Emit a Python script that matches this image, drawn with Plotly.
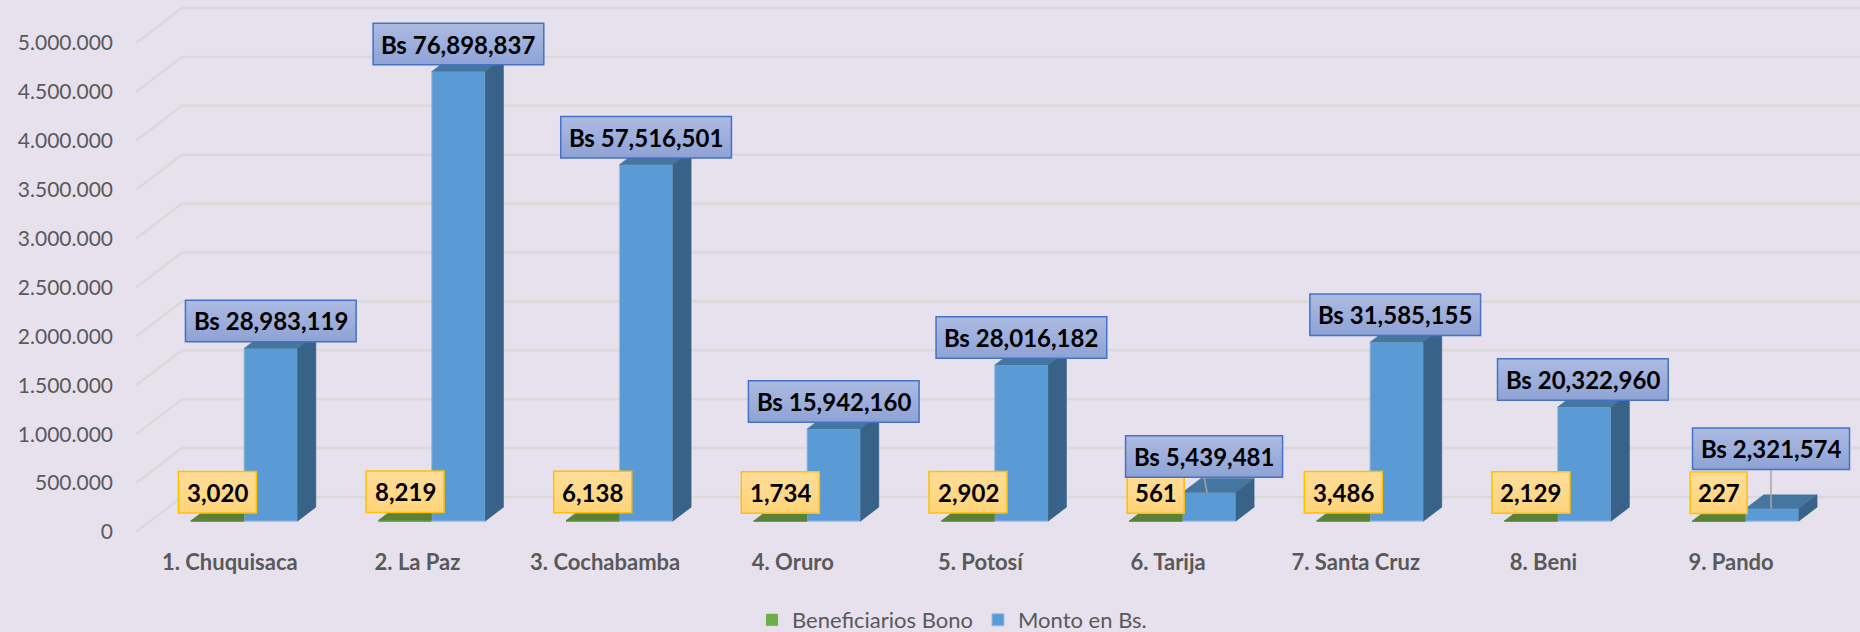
import plotly.graph_objects as go

categories = ["1. Chuquisaca", "2. La Paz", "3. Cochabamba", "4. Oruro", "5. Potosí",
              "6. Tarija", "7. Santa Cruz", "8. Beni", "9. Pando"]
beneficiarios = [3020, 8219, 6138, 1734, 2902, 561, 3486, 2129, 227]
monto_bar = [1766000, 4597000, 3645000, 942000, 1596000, 292000, 1830000, 1166000, 126000]
monto_labels = [28983119, 76898837, 57516501, 15942160, 28016182, 5439481, 31585155, 20322960, 2321574]
y_ticks = [0, 500000, 1000000, 1500000, 2000000, 2500000, 3000000, 3500000, 4000000, 4500000, 5000000]

# layout constants
W, H = 1860, 632
LEFT, BOTTOM_PX = 135.6, 532
CAT_PX = 187.7
VAL_PX = 48.9 / 500000
DX = 46 / CAT_PX        # depth of the floor in category units
DY = 35 / VAL_PX        # depth of the floor in value units
D0, D1 = 0.31, 0.71     # depth of the bars' front and back planes
BW = 53.4 / CAT_PX
XMAX = -0.5 + (W - LEFT) / CAT_PX
YMAX = BOTTOM_PX / VAL_PX

BG = "#e6e1ed"
TXT = "#595959"
FONT = "Lato, sans-serif"


def pt(x, v, d):
    return x + d * DX, v + d * DY


def poly(points, color, name=""):
    xs = [p[0] for p in points] + [points[0][0]]
    ys = [p[1] for p in points] + [points[0][1]]
    return go.Scatter(x=xs, y=ys, mode="lines", fill="toself", fillcolor=color,
                      line=dict(color=color, width=0.5), hoverinfo="skip",
                      showlegend=False)


fig = go.Figure()
idx = list(range(len(categories)))

# front faces
fig.add_bar(name="Beneficiarios Bono", x=[i + D0 * DX - BW / 2 for i in idx], y=beneficiarios,
            base=[D0 * DY] * 9, width=BW, marker=dict(color="#70ad47", line=dict(width=0)))
fig.add_bar(name="Monto en Bs.", x=[i + D0 * DX + BW / 2 for i in idx], y=monto_bar,
            base=[D0 * DY] * 9, width=BW,
            marker=dict(color="#5b9bd5", line=dict(color="#9dbbdf", width=1)))

# depth faces
for i in idx:
    gl, gr = i - BW, i
    v = beneficiarios[i]
    fig.add_trace(poly([pt(gl, v, D0), pt(gl, v, D1), (pt(gr, v, D0)[0], pt(gr, v, D1)[1]), pt(gr, v, D0)], "#5a8136"))
    bl, br = i, i + BW
    v = monto_bar[i]
    fig.add_trace(poly([pt(bl, v, D0), pt(bl, v, D1), pt(br, v, D1), pt(br, v, D0)], "#44769f"))
    fig.add_trace(poly([pt(br, 0, D0), pt(br, 0, D1), pt(br, v, D1), pt(br, v, D0)], "#386287"))

shapes = []
# wall and floor gridlines
for t in y_ticks:
    x1, y1 = pt(-0.5, t, 1)
    shapes.append(dict(type="line", layer="below", x0=-0.5, y0=t, x1=x1, y1=y1,
                       line=dict(color="#d9d9d9", width=2.5)))
    shapes.append(dict(type="line", layer="below", x0=x1, y0=y1, x1=XMAX, y1=y1,
                       line=dict(color="#d9d9d9", width=2.5)))

annotations = []


def gradient_box(xa, ya, xs, ys, w, h, top, bottom, border):
    n = 10
    for k in range(n):
        f = k / (n - 1)
        c = [round(top[j] + (bottom[j] - top[j]) * f) for j in range(3)]
        # strips overlap downward by one pixel so no seams show; later strips paint over
        low = ys + h / 2 - h * (k + 1) / n
        shapes.append(dict(type="rect", layer="above", xref="x", yref="y",
                           xsizemode="pixel", ysizemode="pixel", xanchor=xa, yanchor=ya,
                           x0=xs - w / 2, x1=xs + w / 2,
                           y0=ys + h / 2 - h * k / n, y1=low - (1 if k < n - 1 else 0),
                           fillcolor=f"rgb({c[0]},{c[1]},{c[2]})", line=dict(width=0)))
    shapes.append(dict(type="rect", layer="above", xref="x", yref="y",
                       xsizemode="pixel", ysizemode="pixel", xanchor=xa, yanchor=ya,
                       x0=xs - w / 2, x1=xs + w / 2, y0=ys - h / 2, y1=ys + h / 2,
                       line=dict(color=border, width=1.5)))


def label(xa, ya, xs, ys, text):
    annotations.append(dict(x=xa, y=ya, xref="x", yref="y", xshift=xs, yshift=ys, text=f"<b>{text}</b>",
                            showarrow=False, xanchor="center", yanchor="middle",
                            font=dict(family=FONT, size=24, color="#000000")))


# yellow labels
for i in idx:
    xa, ya = pt(i - BW / 2, beneficiarios[i], D0)
    w = 78 if beneficiarios[i] >= 1000 else 57
    gradient_box(xa, ya, 0, 28.5, w, 41.5, (255, 221, 153), (255, 212, 122), "#ffc000")
    label(xa, ya, 0, 28.5, f"{beneficiarios[i]:,}")

# leader lines (Tarija, Pando) and blue labels
label_dx = {5: -5, 6: -1.5, 7: -1.5, 8: -1}
label_dy = {5: 36, 8: 60}
for i in idx:
    xa, ya = pt(i + BW / 2, monto_bar[i], D0)
    sx, sy = label_dx.get(i, 0), label_dy.get(i, 27.5)
    if i in (5, 8):
        shapes.append(dict(type="line", layer="above", xref="x", yref="y",
                           xsizemode="pixel", ysizemode="pixel", xanchor=xa, yanchor=ya,
                           x0=sx, y0=sy - 20, x1=-2 if i == 5 else -1, y1=0,
                           line=dict(color="#a6a6a6", width=1.5)))
    w = 170.7 if monto_labels[i] >= 10000000 else 157
    gradient_box(xa, ya, sx, sy, w, 41.5, (171, 186, 225), (143, 163, 214), "#4472c4")
    label(xa, ya, sx, sy, f"Bs {monto_labels[i]:,}")

fig.update_layout(
    width=W, height=H, barmode="overlay", plot_bgcolor=BG, paper_bgcolor=BG,
    margin=dict(l=LEFT, r=0, t=0, b=H - BOTTOM_PX, pad=0),
    font=dict(family=FONT, color=TXT),
    showlegend=True,
    legend=dict(orientation="h", xref="container", yref="container", x=952 / W, xanchor="center",
                y=(H - 620) / H, yanchor="middle",
                font=dict(family=FONT, size=22, color=TXT), bgcolor="rgba(0,0,0,0)"),
    xaxis=dict(range=[-0.5, XMAX], tickmode="array", tickvals=idx, ticktext=[f"<b>{c}</b>" for c in categories],
               showgrid=False, zeroline=False, showline=False, ticks="", ticklabelstandoff=15,
               tickfont=dict(family=FONT, size=22, color=TXT), automargin=False),
    yaxis=dict(range=[0, YMAX], tickmode="array", tickvals=y_ticks,
               ticktext=[f"{t:,}".replace(",", ".") for t in y_ticks],
               showgrid=False, zeroline=False, showline=False, ticks="", ticklabelstandoff=22,
               tickfont=dict(family=FONT, size=21, color=TXT), automargin=False),
    shapes=shapes, annotations=annotations,
)

fig.write_html("out.html", config=dict(displayModeBar=False),
               post_script="document.body.style.margin='0';document.body.style.background='%s';" % BG)
